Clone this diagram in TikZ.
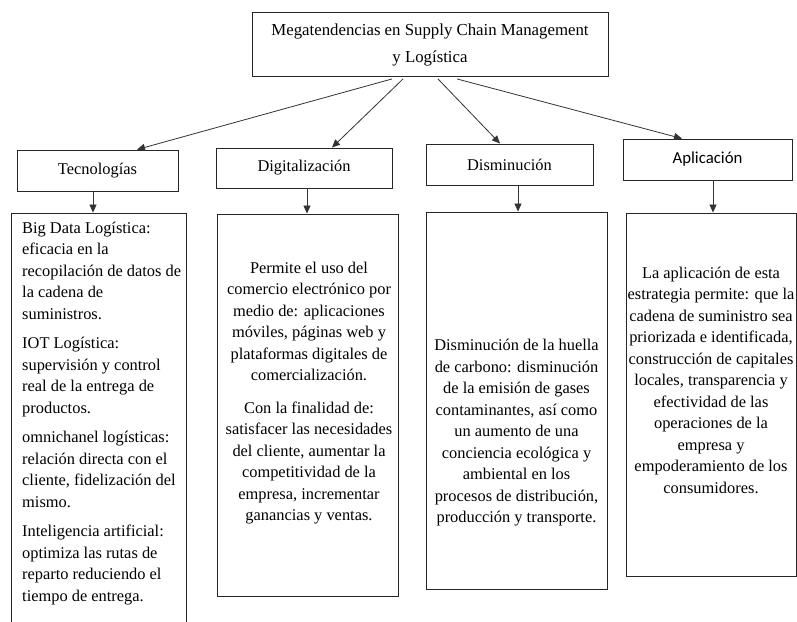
\documentclass[tikz,border=0pt]{standalone}
\usepackage{fontspec}
\setmainfont{Liberation Serif}
\newfontfamily\calibrifont{Carlito}
\usetikzlibrary{arrows.meta}
\begin{document}
\begin{tikzpicture}[x=1pt,y=-1pt,
  box/.style={draw=black!85, line width=0.9pt, rectangle, inner sep=0pt},
  head/.style={box, minimum height=41pt, font=\fontsize{16.4}{20}\selectfont},
  arr/.style={draw=black!80, line width=0.8pt, -{Triangle[length=8pt,width=7pt]}},
  body/.style={inner sep=0pt, font=\fontsize{16.4}{21.5}\selectfont},
  ]
\useasboundingbox (0,0) rectangle (797,621);
\fill[white] (0,0) rectangle (797,621);

% title
\node[box, minimum width=356pt, minimum height=64pt, align=center,
      font=\fontsize{16.8}{27}\selectfont] (top) at (430,44.5)
  {Megatendencias en Supply Chain Management\\y Logística};

% category headers
\node[head, minimum width=161pt] (tec) at (97.5,170.5) {Tecnologías};
\node[head, minimum width=176pt, minimum height=40pt] (dig) at (304,168) {Digitalización};
\node[head, minimum width=167pt] (dis) at (509.5,164.5) {Disminución};
\node[head, minimum width=169pt, font=\calibrifont\fontsize{16.8}{20}\selectfont] (apl) at (707.5,159.5) {Aplicación};

% description panels
\node[box, minimum width=175pt, minimum height=427pt] (tecBox) at (98.5,426.5) {};
\node[box, minimum width=181pt, minimum height=382pt] (digBox) at (307.5,405) {};
\node[box, minimum width=181pt, minimum height=377pt] (disBox) at (516.5,400.5) {};
\node[box, minimum width=170pt, minimum height=363pt] (aplBox) at (711,394.5) {};

\node[body, align=left, anchor=north west] (tecText) at (22,221.5)
  {Big Data Logística:\\ eficacia en la\\ recopilación de datos de\\ la cadena de\\ suministros.\\[8pt]
   IOT Logística:\\ supervisión y control\\ real de la entrega de\\ productos.\\[8pt]
   omnichanel logísticas:\\ relación directa con el\\ cliente, fidelización del\\ mismo.\\[8pt]
   Inteligencia artificial:\\ optimiza las rutas de\\ reparto reduciendo el\\ tiempo de entrega.};

\node[body, align=center, anchor=north] (digText) at (309,261.5)
  {Permite el uso del\\ comercio electrónico por\\ medio de: aplicaciones\\ móviles, páginas web y\\ plataformas digitales de\\ comercialización.\\[11pt]
   Con la finalidad de:\\ satisfacer las necesidades\\ del cliente, aumentar la\\ competitividad de la\\ empresa, incrementar\\ ganancias y ventas.};

\node[body, align=center, anchor=north] (disText) at (516.5,339)
  {Disminución de la huella\\ de carbono: disminución\\ de la emisión de gases\\ contaminantes, así como\\ un aumento de una\\ conciencia ecológica y\\ ambiental en los\\ procesos de distribución,\\ producción y transporte.};

\node[body, align=center, anchor=north] (aplText) at (711,266.5)
  {La aplicación de esta\\ estrategia permite: que la\\ cadena de suministro sea\\ priorizada e identificada,\\ construcción de capitales\\ locales, transparencia y\\ efectividad de las\\ operaciones de la\\ empresa y\\ empoderamiento de los\\ consumidores.};

% arrows from the title
\coordinate (o1) at ([xshift=-38pt,yshift=-2pt]top.south);
\coordinate (o2) at ([xshift=-27pt,yshift=-2pt]top.south);
\coordinate (o3) at ([xshift=8pt,yshift=-2pt]top.south);
\coordinate (o4) at ([xshift=27pt,yshift=-2pt]top.south);
\draw[arr] (o1) -- ([xshift=39.5pt]tec.north);
\draw[arr] (o2) -- ([xshift=28pt]dig.north);
\draw[arr] (o3) -- ([xshift=-9.5pt]dis.north);
\draw[arr] (o4) -- ([xshift=-25.5pt]apl.north);

% arrows down to the panels
\draw[arr] ([xshift=-4.5pt]tec.south) -- ([xshift=-5.5pt]tecBox.north);
\draw[arr] ([xshift=3pt]dig.south) -- ([xshift=-0.5pt]digBox.north);
\draw[arr] ([xshift=8.5pt]dis.south) -- ([xshift=1.5pt]disBox.north);
\draw[arr] ([xshift=5.5pt]apl.south) -- ([xshift=2pt]aplBox.north);
\end{tikzpicture}
\end{document}
